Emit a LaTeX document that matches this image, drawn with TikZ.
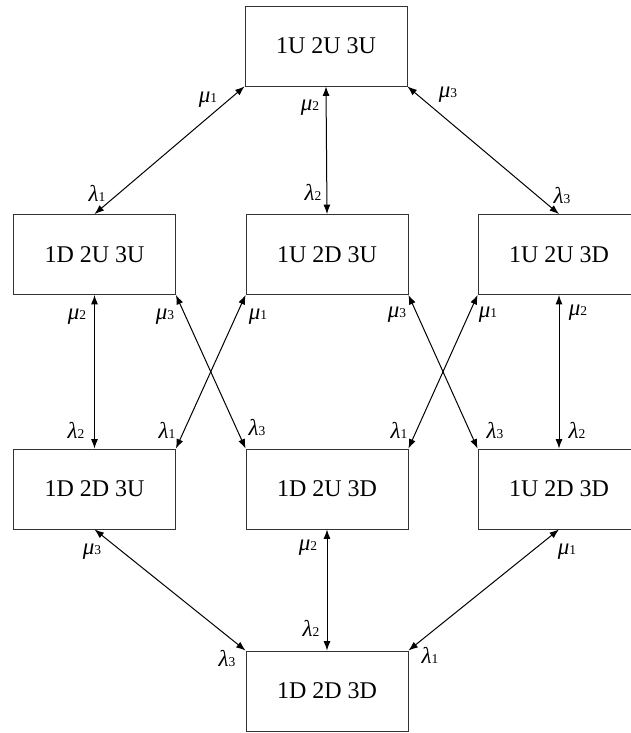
\documentclass[tikz,border=0pt]{standalone}
\usepackage{fontspec}
\setmainfont{Liberation Serif}
\usetikzlibrary{arrows.meta}
% rate label: italic Greek letter with a small index
\newcommand{\rate}[2]{\textit{#1}{\fontsize{13.5}{13.5}\selectfont #2}}

\begin{document}
\begin{tikzpicture}[x=1pt,y=-1pt,
  state/.style={draw=black!80, line width=0.8pt, minimum width=162pt,
    minimum height=80pt, inner sep=0pt, font=\fontsize{24}{24}\selectfont},
  link/.style={{Latex[length=9.5pt,width=7pt]}-{Latex[length=9.5pt,width=7pt]},
    line width=1pt},
  lab/.style={inner sep=0pt, font=\fontsize{23}{23}\selectfont}]
\useasboundingbox (0,0) rectangle (631,733);
\clip (0,0) rectangle (631,733);

% states
\node[state] (uuu) at (326,46)    {1U 2U 3U};
\node[state] (duu) at (94.5,254.5) {1D 2U 3U};
\node[state] (udu) at (327,254.5) {1U 2D 3U};
\node[state] (uud) at (559,254.5) {1U 2U 3D};
\node[state] (ddu) at (94.5,489)  {1D 2D 3U};
\node[state] (dud) at (327,489)   {1D 2U 3D};
\node[state] (udd) at (559,489)   {1U 2D 3D};
\node[state] (ddd) at (327,691)   {1D 2D 3D};

% transitions
\draw[link] (uuu.south west) -- (duu.north);
\draw[link] (uuu.south) -- (udu.north);
\draw[link] (uuu.south east) -- (uud.north);
\draw[link] (duu.south) -- (ddu.north);
\draw[link] (duu.south east) -- (dud.north west);
\draw[link] (udu.south west) -- (ddu.north east);
\draw[link] (udu.south east) -- (udd.north west);
\draw[link] (uud.south west) -- (dud.north east);
\draw[link] (uud.south) -- (udd.north);
\draw[link] (ddu.south) -- (ddd.north west);
\draw[link] (dud.south) -- (ddd.north);
\draw[link] (udd.south) -- (ddd.north east);

% rates, first level
\node[lab] (m1a) at (208,100) {\rate{μ}{1}};
\node[lab] (m2a) at (310,108) {\rate{μ}{2}};
\node[lab] (m3a) at (448,95)  {\rate{μ}{3}};
\node[lab] (l1a) at (97,193)  {\rate{λ}{1}};
\node[lab] (l2a) at (313,192) {\rate{λ}{2}};
\node[lab] (l3a) at (562,195) {\rate{λ}{3}};

% rates, second level
\node[lab] (m2b) at (77,317)  {\rate{μ}{2}};
\node[lab] (m3b) at (165,317) {\rate{μ}{3}};
\node[lab] (m1b) at (258,317) {\rate{μ}{1}};
\node[lab] (m3c) at (397,315) {\rate{μ}{3}};
\node[lab] (m1c) at (488,315) {\rate{μ}{1}};
\node[lab] (m2c) at (578,313) {\rate{μ}{2}};
\node[lab] (l2b) at (76,430)  {\rate{λ}{2}};
\node[lab] (l1b) at (167,430) {\rate{λ}{1}};
\node[lab] (l3b) at (257,427) {\rate{λ}{3}};
\node[lab] (l1c) at (399,430) {\rate{λ}{1}};
\node[lab] (l3c) at (495,430) {\rate{λ}{3}};
\node[lab] (l2c) at (577,430) {\rate{λ}{2}};

% rates, third level
\node[lab] (m3d) at (92,552)  {\rate{μ}{3}};
\node[lab] (m2d) at (308,548) {\rate{μ}{2}};
\node[lab] (m1d) at (567,552) {\rate{μ}{1}};
\node[lab] (l3d) at (227,658) {\rate{λ}{3}};
\node[lab] (l2d) at (311,628) {\rate{λ}{2}};
\node[lab] (l1d) at (430,655) {\rate{λ}{1}};
\end{tikzpicture}
\end{document}
